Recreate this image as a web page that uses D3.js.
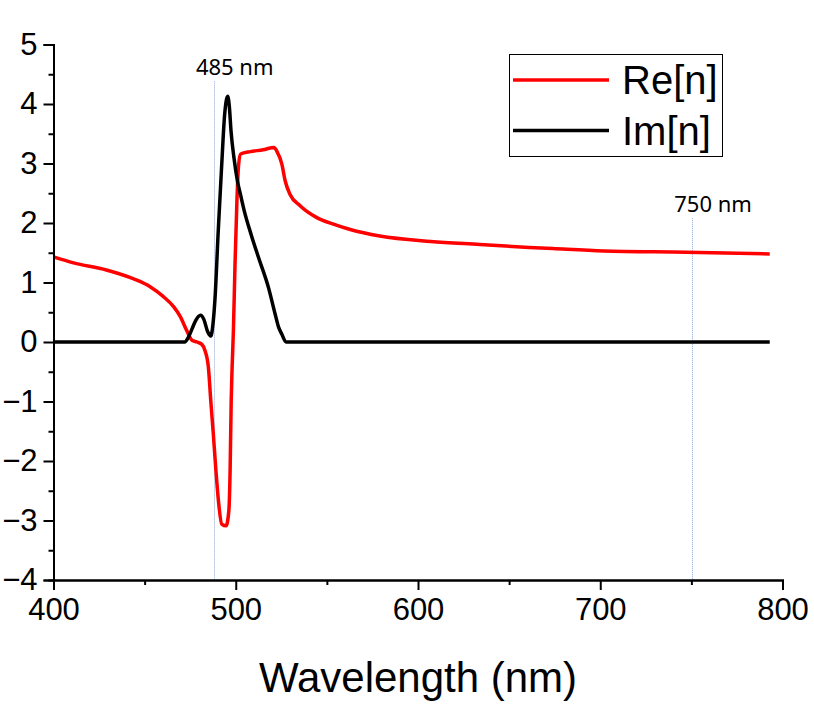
<!DOCTYPE html>
<html>
<head>
<meta charset="utf-8">
<script src="https://cdn.jsdelivr.net/npm/d3@7/dist/d3.min.js"></script>
<style>
  html, body { margin: 0; padding: 0; background: #fff; }
  svg { display: block; }
</style>
</head>
<body>
<svg id="chart" width="814" height="704"></svg>
<script>
// ---- Data ----
const reWavelength = [400, 411, 429, 444, 453, 460, 466, 469.5, 473, 476, 478.7, 481.4, 483.2, 485.0, 486.3, 487.7, 489.0, 490.5, 492.3, 494.7, 496.2, 496.9, 497.5, 498.0, 498.7, 499.6, 500.7, 501.6, 502.7, 508, 515, 521, 522.5, 525.3, 527.1, 529.8, 535.3, 544.5, 553.6, 562.8, 579, 607, 634, 661, 674, 702, 747, 793];
const reValues     = [1.43, 1.33, 1.21, 1.06, 0.93, 0.77, 0.59, 0.43, 0.20, 0.03, 0.0, -0.04, -0.15, -0.43, -0.99, -1.55, -2.11, -2.67, -3.06, -3.09, -2.84, -2.17, -0.99, -0.43, 0.18, 1.31, 2.43, 2.99, 3.16, 3.2, 3.23, 3.27, 3.21, 2.99, 2.71, 2.48, 2.29, 2.09, 1.98, 1.89, 1.78, 1.69, 1.64, 1.59, 1.57, 1.53, 1.51, 1.48];

const imWavelength = [400, 472, 474, 476, 478, 480.7, 482.5, 484.5, 486.3, 487.5, 488.6, 490.4, 492.3, 493.9, 495.6, 496.5, 497.4, 499, 500.9, 502.8, 504.7, 508.5, 512.5, 518, 521.6, 523.5, 525.3, 527.6, 793];
const imValues     = [0, 0, 0.08, 0.22, 0.36, 0.45, 0.38, 0.18, 0.10, 0.3, 0.72, 1.87, 2.98, 3.82, 4.13, 3.95, 3.55, 3.1, 2.71, 2.45, 2.2, 1.8, 1.42, 0.91, 0.47, 0.25, 0.13, 0.0, 0];

const markerPositions = [488, 750.5];
const markerLabels    = ["485 nm", "750 nm"];
const markerTops      = [4.38, 2.08];   // value (in y units) where each marker line starts

const xTicks = [400, 500, 600, 700, 800];
const yTicks = [-4, -3, -2, -1, 0, 1, 2, 3, 4, 5];
const xMinorTicks = [450, 550, 650, 750];
const yMinorTicks = [-3.5, -2.5, -1.5, -0.5, 0.5, 1.5, 2.5, 3.5, 4.5];

const seriesNames  = ["Re[n]", "Im[n]"];
const seriesColors = ["#ff0000", "#000000"];
const xLabel = "Wavelength (nm)";

// ---- Chart ----
const svg = d3.select("#chart");
const axisFont = "'Liberation Sans', Arial, sans-serif";

const x = d3.scaleLinear().domain([400, 800]).range([53.5, 782.5]);
const y = d3.scaleLinear().domain([-4, 5]).range([580, 44.5]);

// marker lines
const markers = markerPositions.map((p, i) => ({p, label: markerLabels[i], top: markerTops[i]}));
const mg = svg.append("g");
mg.selectAll("line").data(markers).join("line")
  .attr("x1", d => Math.round(x(d.p)) + 0.5).attr("x2", d => Math.round(x(d.p)) + 0.5)
  .attr("y1", d => y(d.top)).attr("y2", y(-4))
  .attr("stroke", "#8fa9d4").attr("stroke-width", 1).attr("stroke-dasharray", "1,1");
mg.selectAll("text").data(markers).join("text")
  .attr("x", d => x(d.p) - 18).attr("y", d => y(d.top) - 6)
  .attr("font-family", "'Noto Sans', sans-serif").attr("font-size", 22)
  .attr("fill", "#000").text(d => d.label);

// axes
const xAxis = d3.axisBottom(x).tickValues(xTicks).tickSize(10).tickPadding(8).tickFormat(d3.format("d"));
const xMinor = d3.axisBottom(x).tickValues(xMinorTicks).tickSize(5).tickFormat("");
const yAxis = d3.axisLeft(y).tickValues(yTicks).tickSize(10).tickPadding(6).tickFormat(d3.format("d"));
const yMinor = d3.axisLeft(y).tickValues(yMinorTicks).tickSize(5).tickFormat("");

function styleAxis(g) {
  g.select(".domain").attr("stroke", "#000").attr("stroke-width", 2);
  g.selectAll(".tick line").attr("stroke", "#000").attr("stroke-width", 2);
  g.selectAll(".tick text").attr("font-family", axisFont).attr("font-size", 31).attr("fill", "#000");
}

// series lines
const line = d3.line().x(d => x(d[0])).y(d => y(d[1])).curve(d3.curveMonotoneX);
const reData = reWavelength.map((w, i) => [w, reValues[i]]);
const imData = imWavelength.map((w, i) => [w, imValues[i]]);
svg.append("path").datum(reData).attr("d", line)
  .attr("fill", "none").attr("stroke", seriesColors[0]).attr("stroke-width", 3.5).attr("stroke-linejoin", "round");
svg.append("path").datum(imData).attr("d", line)
  .attr("fill", "none").attr("stroke", seriesColors[1]).attr("stroke-width", 3.5).attr("stroke-linejoin", "round");

svg.append("g").attr("transform", `translate(0,${y(-4)})`).call(xMinor).call(styleAxis);
svg.append("g").attr("transform", `translate(0,${y(-4)})`).call(xAxis).call(styleAxis);
svg.append("g").attr("transform", `translate(${x(400)},0)`).call(yMinor).call(styleAxis);
svg.append("g").attr("transform", `translate(${x(400)},0)`).call(yAxis).call(styleAxis);

// x axis title
svg.append("text").attr("x", (x(400) + x(800)) / 2 + 0).attr("y", 692)
  .attr("text-anchor", "middle").attr("font-family", axisFont).attr("font-size", 42)
  .attr("fill", "#000").text(xLabel);

// legend
const lg = svg.append("g");
lg.append("rect").attr("x", 509.5).attr("y", 54.5).attr("width", 213).attr("height", 102)
  .attr("fill", "#fff").attr("stroke", "#000").attr("stroke-width", 1);
const legendRows = seriesNames.map((n, i) => ({name: n, color: seriesColors[i], i}));
lg.selectAll("line").data(legendRows).join("line")
  .attr("x1", 513).attr("x2", 609)
  .attr("y1", d => 80 + d.i * 50.5).attr("y2", d => 80 + d.i * 50.5)
  .attr("stroke", d => d.color).attr("stroke-width", 3.5);
lg.selectAll("text").data(legendRows).join("text")
  .attr("x", 622).attr("y", d => 94 + d.i * 50.5)
  .attr("font-family", axisFont).attr("font-size", 40).attr("fill", "#000")
  .text(d => d.name);
</script>
</body>
</html>
